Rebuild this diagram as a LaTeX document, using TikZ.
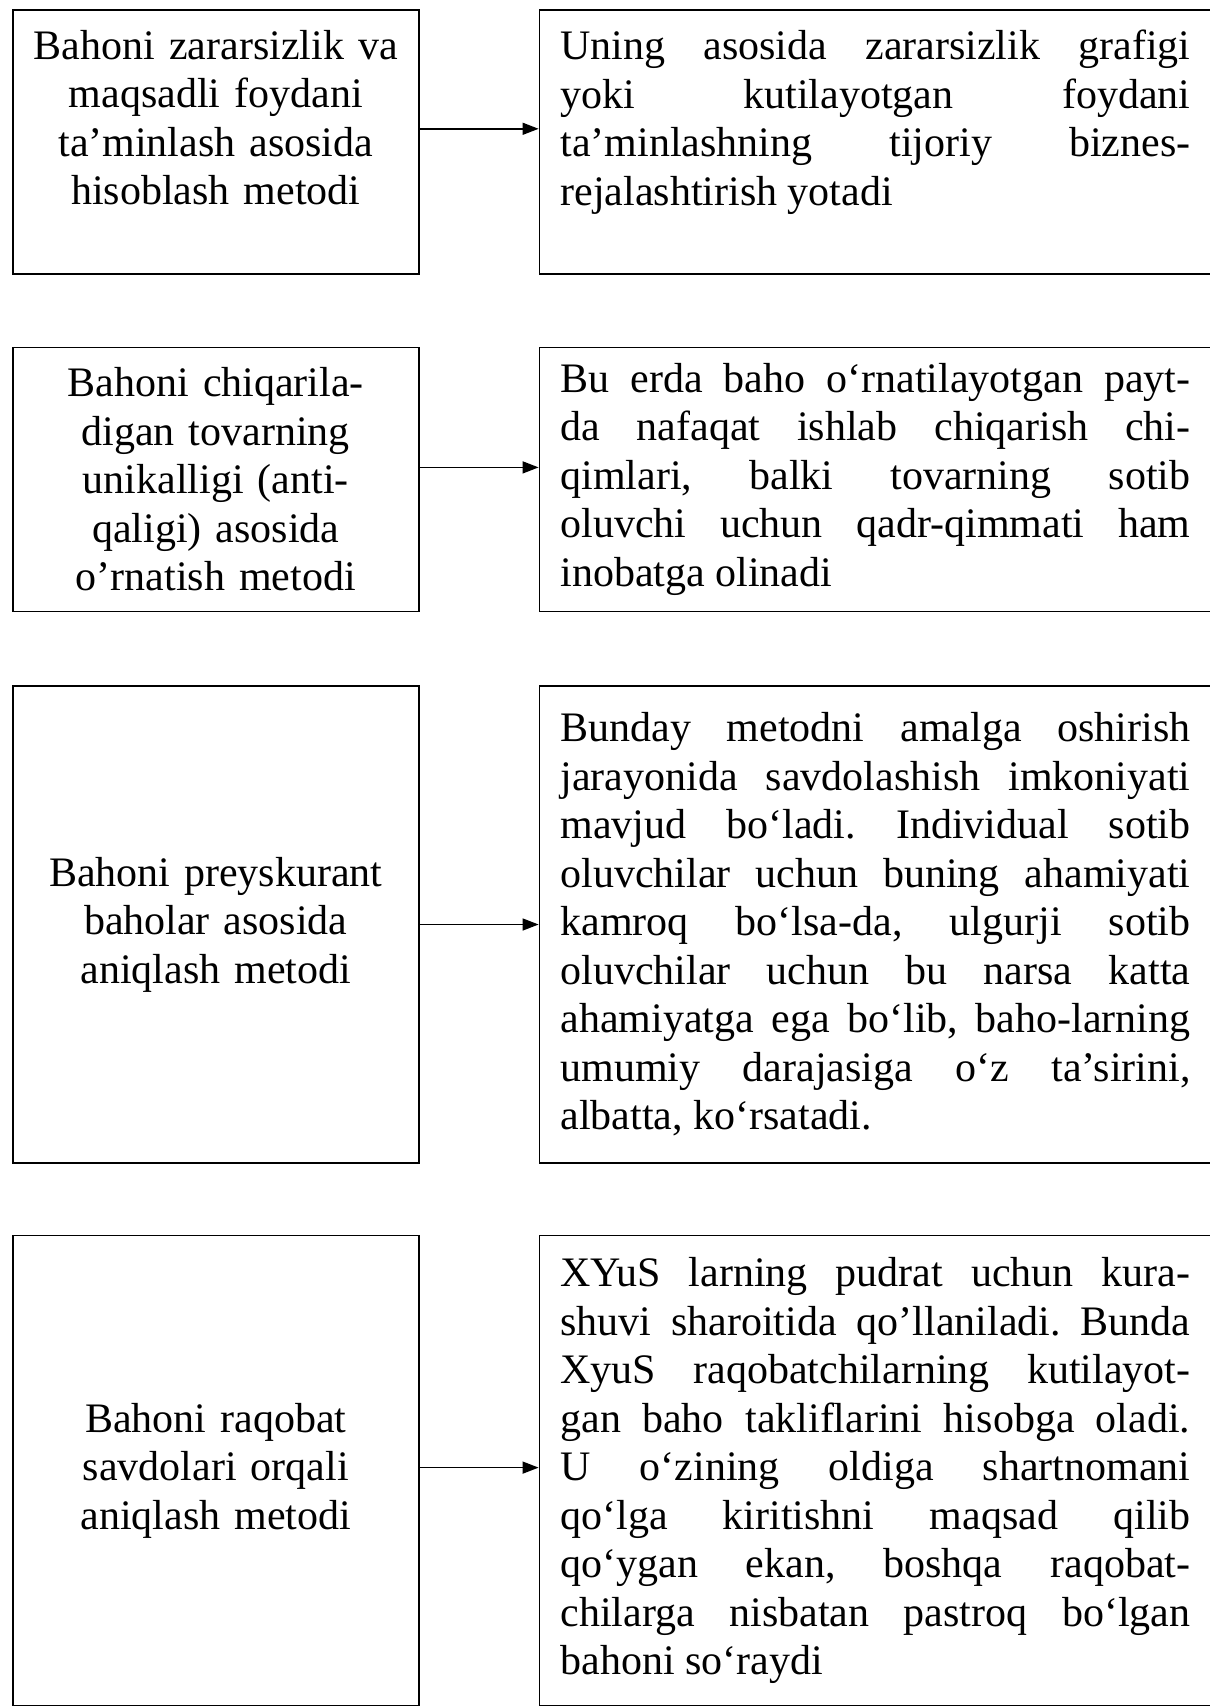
\documentclass[tikz,border=0pt]{standalone}
\usepackage{fontspec}
\setmainfont{Liberation Serif}
\usepackage{xcolor}
\usetikzlibrary{arrows.meta, positioning}
\tolerance=10000
\hyphenpenalty=10000
\frenchspacing

\begin{document}
\begin{tikzpicture}[
    x=1pt, y=1pt,
    lbox/.style={rectangle, draw=black, line width=1.6pt, minimum width=406pt, text width=380pt, inner sep=0pt, align=center, font=\fontsize{42pt}{48.5pt}\selectfont},
    rbox/.style={rectangle, draw=black, line width=1.6pt, minimum width=672pt, text width=630pt, inner xsep=21pt, inner ysep=0pt, align=justify, font=\fontsize{42pt}{48.5pt}\selectfont},
    arr/.style={-{Triangle[length=16pt, width=12pt]}, line width=1.4pt}
]
\useasboundingbox (0,0) rectangle (1210,-1708);

% methods (left column)
\node[lbox, minimum height=264pt, anchor=north west] (zarar) at (12,-9) {Bahoni zararsizlik va\\maqsadli foydani\\ta’minlash asosida\\hisoblash metodi\\\mbox{}};
\node[lbox, minimum height=264pt, below=72pt of zarar] (unikal) {Bahoni chiqarila-\\digan tovarning\\unikalligi (anti-\\qaligi) asosida\\o’rnatish metodi};
\node[lbox, minimum height=477pt, below=73pt of unikal] (preys) {Bahoni preyskurant\\baholar asosida\\aniqlash metodi};
\node[lbox, minimum height=470pt, below=71pt of preys] (raqob) {Bahoni raqobat\\savdolari orqali\\aniqlash metodi};

% explanations (right column)
\node[rbox, minimum height=264pt, right=119pt of zarar] (zararTxt) {Uning asosida zararsizlik grafigi\linebreak yoki kutilayotgan foydani\linebreak ta’minlashning tijoriy biznes-\linebreak rejalashtirish yotadi\\\mbox{}};
\node[rbox, minimum height=264pt, right=119pt of unikal] (unikalTxt) {Bu erda baho o‘rnatilayotgan payt-\linebreak da nafaqat ishlab chiqarish chi-\linebreak qimlari, balki tovarning sotib\linebreak oluvchi uchun qadr-qimmati ham\linebreak inobatga olinadi};
\node[rbox, minimum height=477pt, right=119pt of preys] (preysTxt) {Bunday metodni amalga oshirish\linebreak jarayonida savdolashish imkoniyati\linebreak mavjud bo‘ladi. Individual sotib\linebreak oluvchilar uchun buning ahamiyati\linebreak kamroq bo‘lsa-da, ulgurji sotib\linebreak oluvchilar uchun bu narsa katta\linebreak ahamiyatga ega bo‘lib, baho-larning\linebreak umumiy darajasiga o‘z ta’sirini,\linebreak albatta, ko‘rsatadi.};
\node[rbox, minimum height=470pt, right=119pt of raqob] (raqobTxt) {XYuS larning pudrat uchun kura-\linebreak shuvi sharoitida qo’llaniladi. Bunda\linebreak XyuS raqobatchilarning kutilayot-\linebreak gan baho takliflarini hisobga oladi.\linebreak U o‘zining oldiga shartnomani\linebreak qo‘lga kiritishni maqsad qilib\linebreak qo‘ygan ekan, boshqa raqobat-\linebreak chilarga nisbatan pastroq bo‘lgan\linebreak bahoni so‘raydi};

\draw[arr] ([yshift=13pt]zarar.east) -- ([yshift=13pt]zararTxt.west);
\draw[arr] ([yshift=12pt]unikal.east) -- ([yshift=12pt]unikalTxt.west);
\draw[arr] (preys.east) -- (preysTxt.west);
\draw[arr] ([yshift=3pt]raqob.east) -- ([yshift=3pt]raqobTxt.west);
\end{tikzpicture}
\end{document}
